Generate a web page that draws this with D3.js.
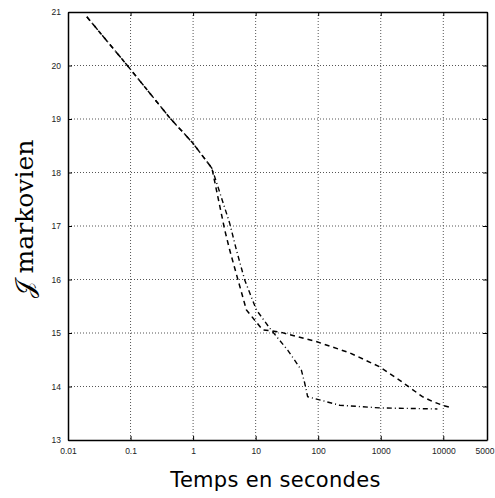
<!DOCTYPE html>
<html>
<head>
<meta charset="utf-8">
<script src="https://cdn.jsdelivr.net/npm/d3@7"></script>
<style>
  body { margin: 0; background: #fff; }
  .tick text { font-family: "Liberation Sans", Arial, sans-serif; font-size: 8.5px; fill: #222; }
</style>
</head>
<body>
<div id="chart"></div>
<script>
const width = 495,
  height = 498;
const margin = { top: 12, right: 8, bottom: 58, left: 68 };

// shared start of both runs (time in s, criterion)
const startTimes = [0.02, 0.0875, 0.425, 0.99, 2.0];
const startValues = [20.91, 20.01, 19.02, 18.55, 18.08];

// dashed run
const dashedTimes = [3.2, 3.85, 5.23, 7.12, 12.9, 24.2, 93, 317, 955, 1990, 4630, 6700, 9680, 13960];
const dashedValues = [16.93, 16.55, 15.99, 15.43, 15.06, 15.02, 14.84, 14.63, 14.37, 14.12, 13.81, 13.72, 13.65, 13.6];

// dash-dot run
const dotTimes = [3.85, 4.93, 6.69, 10.3, 16.8, 32.5, 53.7, 60.7, 67.8, 105, 220, 955, 8050];
const dotValues = [17.05, 16.55, 15.99, 15.43, 15.09, 14.68, 14.31, 14.07, 13.81, 13.75, 13.65, 13.6, 13.58];

const xTicks = [0.01, 0.1, 1, 10, 100, 1000, 10000, 50000];
const xTickLabels = ["0.01", "0.1", "1", "10", "100", "1000", "10000", "5000"];
const yTicks = [13, 14, 15, 16, 17, 18, 19, 20, 21];

const w = width - margin.left - margin.right,
  h = height - margin.top - margin.bottom;

const x = d3.scaleLog().domain([0.01, 50000]).range([0, w]);
const y = d3.scaleLinear().domain([13, 21]).range([h, 0]);

const svg = d3
  .select("#chart")
  .append("svg")
  .attr("width", width)
  .attr("height", height)
  .append("g")
  .attr("transform", `translate(${margin.left},${margin.top})`);

// dotted grid
svg
  .selectAll(".vgrid")
  .data(xTicks.slice(1, -1))
  .enter()
  .append("line")
  .attr("x1", (d) => x(d))
  .attr("x2", (d) => x(d))
  .attr("y1", 0)
  .attr("y2", h)
  .attr("stroke", "#555")
  .attr("stroke-width", 1)
  .attr("stroke-dasharray", "1,2");

svg
  .selectAll(".hgrid")
  .data(yTicks.slice(1, -1))
  .enter()
  .append("line")
  .attr("x1", 0)
  .attr("x2", w)
  .attr("y1", (d) => y(d))
  .attr("y2", (d) => y(d))
  .attr("stroke", "#555")
  .attr("stroke-width", 1)
  .attr("stroke-dasharray", "1,2");

// axes, ticks pointing inward
const fmt = (d) => xTickLabels[xTicks.indexOf(d)];

const xAxis = svg
  .append("g")
  .attr("transform", `translate(0,${h})`)
  .call(d3.axisBottom(x).tickValues(xTicks).tickFormat(fmt).tickSizeInner(-4).tickSizeOuter(0).tickPadding(8));
xAxis.selectAll(".tick text").filter((d) => d === 50000).attr("text-anchor", "end").attr("dx", "7");

svg
  .append("g")
  .call(d3.axisTop(x).tickValues(xTicks).tickFormat("").tickSizeInner(-4).tickSizeOuter(0));

svg
  .append("g")
  .call(d3.axisLeft(y).tickValues(yTicks).tickFormat(d3.format("d")).tickSizeInner(-4).tickSizeOuter(0).tickPadding(7));

svg
  .append("g")
  .attr("transform", `translate(${w},0)`)
  .call(d3.axisRight(y).tickValues(yTicks).tickFormat("").tickSizeInner(-4).tickSizeOuter(0));

svg.selectAll(".domain").attr("stroke", "#000").attr("stroke-width", 1.5);
svg.selectAll(".tick line").attr("stroke", "#000");

// curves
const line = d3
  .line()
  .x((d) => x(d[0]))
  .y((d) => y(d[1]));

const start = startTimes.map((t, i) => [t, startValues[i]]);
const dashed = start.concat(dashedTimes.map((t, i) => [t, dashedValues[i]]));
const dotted = start.concat(dotTimes.map((t, i) => [t, dotValues[i]]));

svg
  .append("path")
  .datum(dotted)
  .attr("fill", "none")
  .attr("stroke", "#000")
  .attr("stroke-width", 1.4)
  .attr("stroke-dasharray", "5,3,1,3")
  .attr("d", line);

svg
  .append("path")
  .datum(dashed)
  .attr("fill", "none")
  .attr("stroke", "#000")
  .attr("stroke-width", 1.5)
  .attr("stroke-dasharray", "5,4")
  .attr("d", line);

// axis titles
svg
  .append("text")
  .attr("x", w / 2 - 2)
  .attr("y", h + 47)
  .attr("text-anchor", "middle")
  .attr("font-family", "'DejaVu Sans', sans-serif")
  .attr("font-size", 21)
  .attr("letter-spacing", 0.3)
  .text("Temps en secondes");

svg
  .append("text")
  .attr("transform", `translate(${-margin.left + 33},${h / 2 - 7}) rotate(-90)`)
  .attr("text-anchor", "middle")
  .attr("font-family", "'DejaVu Serif', 'Liberation Serif', serif")
  .attr("font-size", 25)
  .text("𝒥 markovien");
</script>
</body>
</html>
